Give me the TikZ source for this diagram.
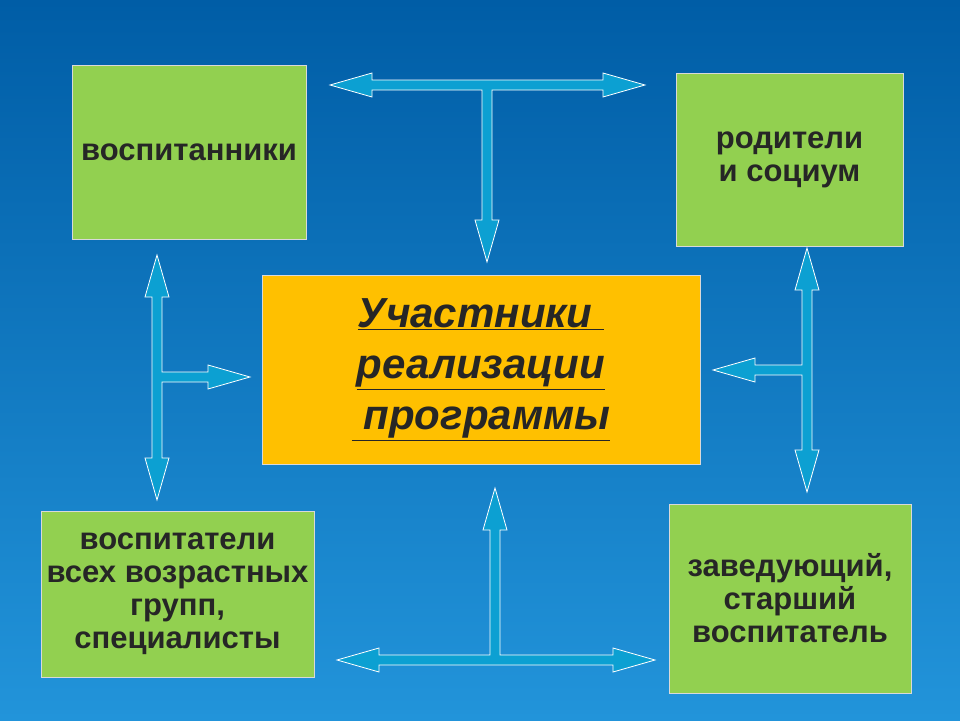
\documentclass[tikz,border=0pt]{standalone}
\usepackage{fontspec}
\setmainfont{Liberation Sans}
\begin{document}
% T-shaped double arrows: horizontal bar with a vertical stem
\newcommand{\tarrowH}[5]{% cx, y, xl, xr, ystem-tip
  \pgfmathsetmacro{\s}{#5>#2 ? 1 : -1}
  \filldraw[arrowshape] (#3,#2) -- (#3+42,#2-\s*12) -- (#3+42,#2-\s*5) -- (#4-42,#2-\s*5) -- (#4-42,#2-\s*12) -- (#4,#2)
    -- (#4-42,#2+\s*12) -- (#4-42,#2+\s*5) -- (#1+5,#2+\s*5) -- (#1+5,#5-\s*42) -- (#1+12,#5-\s*42) -- (#1,#5)
    -- (#1-12,#5-\s*42) -- (#1-5,#5-\s*42) -- (#1-5,#2+\s*5) -- (#3+42,#2+\s*5) -- (#3+42,#2+\s*12) -- cycle;}
\newcommand{\tarrowV}[5]{% cy, x, yt, yb, xstem-tip
  \pgfmathsetmacro{\s}{#5>#2 ? 1 : -1}
  \filldraw[arrowshape] (#2,#3) -- (#2-\s*12,#3+42) -- (#2-\s*5,#3+42) -- (#2-\s*5,#4-42) -- (#2-\s*12,#4-42) -- (#2,#4)
    -- (#2+\s*12,#4-42) -- (#2+\s*5,#4-42) -- (#2+\s*5,#1+5) -- (#5-\s*42,#1+5) -- (#5-\s*42,#1+12) -- (#5,#1)
    -- (#5-\s*42,#1-12) -- (#5-\s*42,#1-5) -- (#2+\s*5,#1-5) -- (#2+\s*5,#3+42) -- (#2+\s*12,#3+42) -- cycle;}
\begin{tikzpicture}[x=1pt,y=-1pt,
  arrowshape/.style={fill=arrowblue,draw=white,line width=0.8pt},
  greenbox/.style={fill=boxgreen,draw=gray!30,line width=0.6pt,align=center,
    font=\bfseries\fontsize{31}{33}\selectfont,text=black!85},
  centerbox/.style={fill=boxyellow,draw=gray!30,line width=0.6pt,align=center,
    font=\bfseries\itshape\fontsize{42}{51}\selectfont,text=black!85}]
  \definecolor{bgtop}{HTML}{005DA6}
  \definecolor{bgbot}{HTML}{2294DA}
  \definecolor{arrowblue}{HTML}{0CA0D2}
  \definecolor{boxgreen}{HTML}{92D050}
  \definecolor{boxyellow}{HTML}{FFC000}
  % background
  \shade[top color=bgtop,bottom color=bgbot] (0,0) rectangle (960,720);
  \useasboundingbox (0,0) rectangle (960,720);
  % boxes
  \draw[greenbox] (72,65) rectangle (306,239)
    node[midway] (pupils) {воспитанники};
  \draw[greenbox] (676,73) rectangle (903,246)
    node[midway] (parents) {родители\\ и социум};
  \draw[greenbox] (41,511) rectangle (314,677)
    node[midway] (teachers) {воспитатели\\ всех возрастных\\ групп,\\ специалисты};
  \draw[greenbox] (669,504) rectangle (911,693)
    node[midway] (heads) {заведующий,\\ старший\\ воспитатель};
  \draw[centerbox] (262,275) rectangle (700,464)
    node[midway] (center) {\underline{Участники }\\ \underline{реализации}\\ \underline{ программы}};
  % arrows
  \tarrowH{487}{85}{330}{645}{262}
  \tarrowH{495}{660}{337}{655}{488}
  \tarrowV{377}{157}{255}{500}{250}
  \tarrowV{370}{807}{248}{492}{713}
\end{tikzpicture}
\end{document}
